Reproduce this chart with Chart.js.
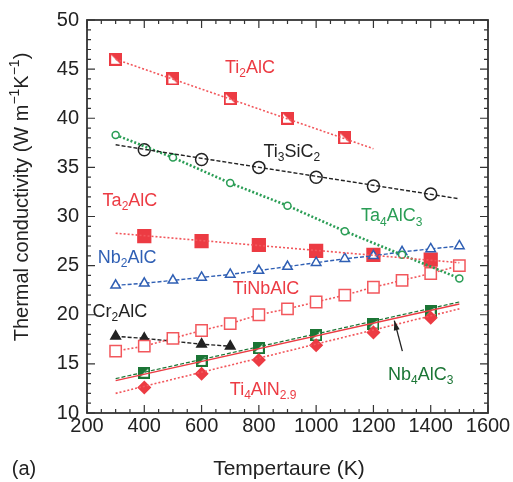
<!DOCTYPE html>
<html>
<head>
<meta charset="utf-8">
<script src="https://cdn.jsdelivr.net/npm/chart.js@4.4.0/dist/chart.umd.min.js"></script>
<style>
  html, body { margin: 0; padding: 0; background: #fff; }
</style>
</head>
<body>
<canvas id="thermalChart" width="513" height="482"></canvas>
<script>
// values (T in K, k in W m-1 K-1)
const ti2alcT = [300, 500, 700, 900, 1100];
const ti2alcK = [46.0, 44.0, 42.0, 40.0, 38.0];
const ti2alcFitT = [300, 1200];
const ti2alcFitK = [46.0, 36.9];

const ti3sic2T = [400, 600, 800, 1000, 1200, 1400];
const ti3sic2K = [36.8, 35.8, 35.0, 34.0, 33.1, 32.3];
const ti3sic2FitT = [300, 1500];
const ti3sic2FitK = [37.3, 31.8];

const ta4alc3T = [300, 500, 700, 900, 1100, 1300, 1500];
const ta4alc3K = [38.3, 36.0, 33.4, 31.1, 28.5, 26.1, 23.7];

const ta2alcT = [400, 600, 800, 1000, 1200, 1400];
const ta2alcK = [28.0, 27.5, 27.1, 26.5, 26.1, 25.6];
const ta2alcFitT = [300, 1500];
const ta2alcFitK = [28.3, 25.3];

const nb2alcT = [300, 400, 500, 600, 700, 800, 900, 1000, 1100, 1200, 1300, 1400, 1500];
const nb2alcK = [23.0, 23.2, 23.5, 23.8, 24.1, 24.5, 24.9, 25.3, 25.7, 26.0, 26.4, 26.7, 27.0];

const tinbalcT = [300, 400, 500, 600, 700, 800, 900, 1000, 1100, 1200, 1300, 1400, 1500];
const tinbalcK = [16.3, 16.8, 17.6, 18.4, 19.1, 20.0, 20.6, 21.3, 22.0, 22.8, 23.5, 24.2, 25.0];

const cr2alcT = [300, 400, 600, 700];
const cr2alcK = [17.8, 17.6, 17.0, 16.8];

const nb4alc3T = [400, 600, 800, 1000, 1200, 1400];
const nb4alc3K = [14.1, 15.3, 16.6, 17.9, 19.1, 20.4];
const nb4alc3FitT = [300, 1500];
const nb4alc3FitK = [13.5, 21.3];
const nb4alc3FitRedK = [13.3, 21.1];

const ti4alnT = [400, 600, 800, 1000, 1200, 1400];
const ti4alnK = [12.6, 14.0, 15.4, 16.9, 18.2, 19.7];
const ti4alnFitT = [300, 1500];
const ti4alnFitK = [12.0, 20.6];

const xTicks = [200, 400, 600, 800, 1000, 1200, 1400, 1600];
const yTicks = [10, 15, 20, 25, 30, 35, 40, 45, 50];

const RED = "#ec3b43";
const RED_LT = "#f2575c";
const GREEN = "#2a9d55";
const DKGREEN = "#1b7535";
const BLUE = "#2f5fb4";
const BLACK = "#222222";

function pts(xs, ys) {
    return xs.map((x, i) => ({ x: x, y: ys[i] }));
}

// half filled square marker
function halfSquare(size, color, fillColor, flip) {
    const c = document.createElement("canvas");
    c.width = size; c.height = size;
    const g = c.getContext("2d");
    g.fillStyle = "#fff";
    g.fillRect(0, 0, size, size);
    g.fillStyle = fillColor;
    g.beginPath();
    if (flip) {
        g.moveTo(0, 0); g.lineTo(size, 0); g.lineTo(size, size);
    } else {
        g.moveTo(0, 0); g.lineTo(size, 0); g.lineTo(0, size);
    }
    g.closePath();
    g.fill();
    g.strokeStyle = color;
    g.lineWidth = 2;
    g.strokeRect(1, 1, size - 2, size - 2);
    return c;
}

const ti2alcMark = halfSquare(13, RED, RED, true);
const nb4alc3Mark = halfSquare(12, DKGREEN, DKGREEN, false);

function fitLine(xs, ys, color, dash, width) {
    return {
        data: pts(xs, ys), showLine: true, pointRadius: 0,
        borderColor: color, borderDash: dash, borderWidth: width, fill: false
    };
}

function markers(xs, ys, style, radius, border, bg, showLine, dash, width) {
    return {
        data: pts(xs, ys), showLine: !!showLine, pointStyle: style, pointRadius: radius,
        pointBorderColor: border, pointBackgroundColor: bg, pointBorderWidth: 1.5,
        borderColor: border, borderDash: dash || [], borderWidth: width || 1.5, fill: false
    };
}

const datasets = [
    fitLine(ti2alcFitT, ti2alcFitK, RED_LT, [2, 2], 1.6),
    fitLine(ti3sic2FitT, ti3sic2FitK, BLACK, [4, 2], 1.4),
    fitLine(ta2alcFitT, ta2alcFitK, RED_LT, [2, 2], 1.6),
    fitLine(nb4alc3FitT, nb4alc3FitRedK, RED, [], 1.4),
    fitLine(nb4alc3FitT, nb4alc3FitK, DKGREEN, [4, 2], 1.2),
    fitLine(ti4alnFitT, ti4alnFitK, RED_LT, [2, 2], 1.6),
    markers(ta4alc3T, ta4alc3K, "circle", 3.5, GREEN, "#fff", true, [2, 2], 2.6),
    markers(nb2alcT, nb2alcK, "triangle", 5.5, BLUE, "#fff", true, [4, 2], 1.4),
    markers(tinbalcT, tinbalcK, "rect", 8, RED_LT, "#fff", true, [2, 2], 1.6),
    markers(cr2alcT, cr2alcK, "triangle", 5.5, BLACK, BLACK, true, [4, 2], 1.4),
    markers(ti3sic2T, ti3sic2K, "circle", 6, BLACK, "#fff", false),
    markers(ta2alcT, ta2alcK, "rect", 9, RED, RED, false),
    markers(ti4alnT, ti4alnK, "rectRot", 6, RED, RED, false),
    markers(ti2alcT, ti2alcK, ti2alcMark, 7, RED, RED, false),
    markers(nb4alc3T, nb4alc3K, nb4alc3Mark, 6, DKGREEN, DKGREEN, false)
];

// labels: [parts, x, y, color]  parts: [text, "n"|"b"|"p"]
const seriesLabels = [
    [[["Ti", "n"], ["2", "b"], ["AlC", "n"]], 769, 45.1, RED],
    [[["Ti", "n"], ["3", "b"], ["SiC", "n"], ["2", "b"]], 915, 36.6, BLACK],
    [[["Ta", "n"], ["2", "b"], ["AlC", "n"]], 350, 31.6, RED],
    [[["Ta", "n"], ["4", "b"], ["AlC", "n"], ["3", "b"]], 1264, 30.0, GREEN],
    [[["Nb", "n"], ["2", "b"], ["AlC", "n"]], 340, 25.8, BLUE],
    [[["TiNbAlC", "n"]], 825, 22.6, RED],
    [[["Cr", "n"], ["2", "b"], ["AlC", "n"]], 315, 20.3, BLACK],
    [[["Nb", "n"], ["4", "b"], ["AlC", "n"], ["3", "b"]], 1365, 13.9, DKGREEN],
    [[["Ti", "n"], ["4", "b"], ["AlN", "n"], ["2.9", "b"]], 815, 12.3, RED]
];

function drawRich(ctx, parts, cx, cy, size, color) {
    const fam = "'Liberation Sans', Arial, sans-serif";
    const small = Math.round(size * 0.68);
    let total = 0;
    parts.forEach(p => {
        ctx.font = (p[1] === "n" ? size : small) + "px " + fam;
        total += ctx.measureText(p[0]).width;
    });
    let x = cx - total / 2;
    ctx.fillStyle = color;
    ctx.textBaseline = "middle";
    ctx.textAlign = "left";
    parts.forEach(p => {
        const sz = p[1] === "n" ? size : small;
        ctx.font = sz + "px " + fam;
        let dy = 0;
        if (p[1] === "b") dy = size * 0.32;
        if (p[1] === "p") dy = -size * 0.35;
        ctx.fillText(p[0], x, cy + dy);
        x += ctx.measureText(p[0]).width;
    });
}

const framePlugin = {
    id: "frame",
    afterDraw(chart) {
        const { ctx, chartArea: a, scales: { x, y } } = chart;
        ctx.save();
        ctx.strokeStyle = "#333";
        ctx.lineWidth = 1.2;
        ctx.beginPath();
        for (let v = 200; v <= 1600; v += 50) {
            const px = x.getPixelForValue(v);
            const len = v % 200 === 0 ? 8 : 4;
            ctx.moveTo(px, a.bottom); ctx.lineTo(px, a.bottom - len);
            ctx.moveTo(px, a.top); ctx.lineTo(px, a.top + len);
        }
        for (let v = 10; v <= 50; v += 1) {
            const py = y.getPixelForValue(v);
            const len = v % 5 === 0 ? 8 : 4;
            ctx.moveTo(a.left, py); ctx.lineTo(a.left + len, py);
            ctx.moveTo(a.right, py); ctx.lineTo(a.right - len, py);
        }
        ctx.stroke();
        ctx.lineWidth = 1.8;
        ctx.strokeRect(a.left, a.top, a.right - a.left, a.bottom - a.top);

        seriesLabels.forEach(l => {
            drawRich(ctx, l[0], x.getPixelForValue(l[1]), y.getPixelForValue(l[2]), 18, l[3]);
        });

        // arrow pointing at Nb4AlC3 fit
        const tx = x.getPixelForValue(1301), ty = y.getPixelForValue(16.3);
        const hx = x.getPixelForValue(1273), hy = y.getPixelForValue(19.4);
        const ang = Math.atan2(hy - ty, hx - tx);
        ctx.strokeStyle = BLACK;
        ctx.fillStyle = BLACK;
        ctx.lineWidth = 1.3;
        ctx.beginPath(); ctx.moveTo(tx, ty); ctx.lineTo(hx, hy); ctx.stroke();
        ctx.beginPath();
        ctx.moveTo(hx, hy);
        ctx.lineTo(hx - 10 * Math.cos(ang - 0.3), hy - 10 * Math.sin(ang - 0.3));
        ctx.lineTo(hx - 10 * Math.cos(ang + 0.3), hy - 10 * Math.sin(ang + 0.3));
        ctx.closePath(); ctx.fill();

        // axis titles
        drawRich(ctx, [["Tempertaure (K)", "n"]], 289, 469, 21, BLACK);
        drawRich(ctx, [["(a)", "n"]], 24, 469, 20, BLACK);
        ctx.translate(22, 197);
        ctx.rotate(-Math.PI / 2);
        drawRich(ctx, [["Thermal conductivity (W m", "n"], ["\u22121", "p"], ["K", "n"], ["\u22121", "p"], [")", "n"]], 0, 0, 20, BLACK);
        ctx.restore();
    }
};

const ctx = document.getElementById("thermalChart").getContext("2d");
new Chart(ctx, {
    type: "scatter",
    data: { datasets: datasets },
    options: {
        responsive: false,
        animation: false,
        devicePixelRatio: 1,
        layout: { padding: { top: 13, right: 25, left: 0, bottom: 0 } },
        plugins: { legend: { display: false }, tooltip: { enabled: false } },
        scales: {
            x: {
                type: "linear", min: 200, max: 1600,
                afterBuildTicks: s => { s.ticks = xTicks.map(v => ({ value: v })); },
                afterFit: s => { s.height = 69; },
                ticks: { color: BLACK, padding: 1, callback: v => String(v), font: { size: 20, family: "'Liberation Sans', Arial" } },
                grid: { display: false, drawTicks: false },
                border: { display: false }
            },
            y: {
                type: "linear", min: 10, max: 50,
                afterBuildTicks: s => { s.ticks = yTicks.map(v => ({ value: v })); },
                afterFit: s => { s.width = 87; },
                ticks: { color: BLACK, padding: 8, callback: v => String(v), font: { size: 20, family: "'Liberation Sans', Arial" } },
                grid: { display: false, drawTicks: false },
                border: { display: false }
            }
        }
    },
    plugins: [framePlugin]
});
</script>
</body>
</html>
